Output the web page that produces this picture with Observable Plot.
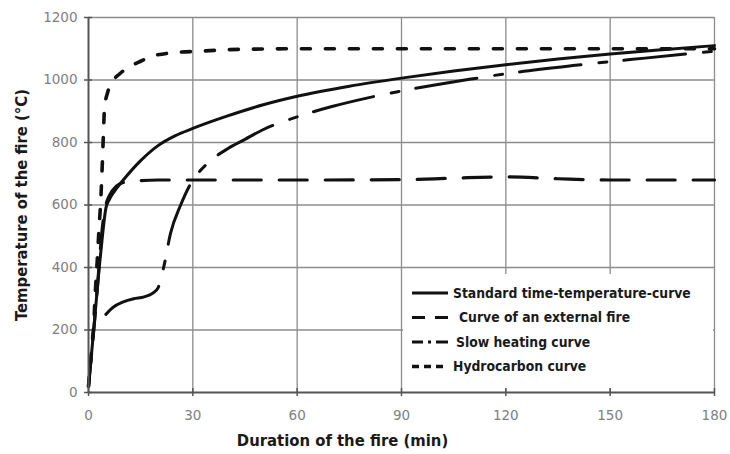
<!DOCTYPE html>
<html>
<head>
<meta charset="utf-8">
<script src="https://cdn.jsdelivr.net/npm/d3@7"></script>
<script src="https://cdn.jsdelivr.net/npm/@observablehq/plot@0.6"></script>
<style>
  html, body { margin: 0; padding: 0; background: #fff; }
  #wrap { position: relative; width: 730px; height: 454px; }
  #wrap svg { display: block; }
  #legend { position: absolute; background: #fff; }
  #legend svg { position: absolute; left: 0; top: 0; }
</style>
</head>
<body>
<div id="wrap"><div id="chart"></div><div id="legend"></div></div>
<script>
// ---- data ----
const xTicks = [0, 30, 60, 90, 120, 150, 180];
const yTicks = [0, 200, 400, 600, 800, 1000, 1200];

const seriesNames = [
  "Standard time-temperature-curve",
  "Curve of an external fire",
  "Slow heating curve",
  "Hydrocarbon curve"
];

const stdMin  = [0, 1, 1.5, 2, 3, 4, 5, 6, 8, 10, 15, 20, 25, 30, 40, 50, 60, 75, 90, 105, 120, 135, 150, 165, 180];
const stdTemp = [20, 140, 200, 265, 390, 500, 590, 618, 652, 680, 742, 790, 822, 845, 885, 920, 948, 980, 1006, 1029, 1049, 1067, 1083, 1097, 1110];

const extMin  = [0, 1, 2, 3, 4, 5, 6, 8, 10, 15, 20, 30, 60, 90, 105, 120, 135, 150, 180];
const extTemp = [20, 140, 260, 400, 530, 600, 630, 660, 672, 678, 680, 680, 680, 681, 686, 690, 684, 680, 680];

const slowMin  = [5, 7, 10, 13, 16, 18.5, 20, 21.6, 23.6, 26.5, 30, 33, 36, 40, 45, 50, 60, 70, 80, 90, 100, 110, 120, 140, 160, 180];
const slowTemp = [250, 272, 290, 300, 306, 318, 335, 400, 510, 600, 680, 720, 750, 780, 810, 840, 882, 915, 942, 965, 985, 1003, 1020, 1047, 1070, 1092];

const hcMin  = [0, 1, 1.5, 2, 2.5, 3, 3.5, 4, 4.3, 4.6, 5.5, 6.6, 9, 11.5, 15, 18, 25, 32, 40, 60, 90, 120, 150, 180];
const hcTemp = [20, 150, 220, 330, 420, 520, 610, 740, 830, 910, 960, 990, 1020, 1040, 1060, 1075, 1088, 1092, 1097, 1100, 1100, 1100, 1100, 1100];

const xTitle = "Duration of the fire (min)";
const yTitle = "Temperature of the fire (°C)";

// ---- build tables ----
const toRows = (m, t) => m.map((d, i) => ({min: d, temp: t[i]}));
const std  = toRows(stdMin, stdTemp);
const ext  = toRows(extMin, extTemp);
const slow = toRows(slowMin, slowTemp);
const hc   = toRows(hcMin, hcTemp);

const dashes = ["none", "28,18", "62,18,8,17", "9,15"];
const sampleDashes = ["none", "13,10", "11,5,3,5,12", "7,5"];
const widths = [3, 3.2, 3, 3.6];

const ink = "#111";
const titleFont = "'DejaVu Sans Condensed', 'DejaVu Sans', sans-serif";

const chart = Plot.plot({
  width: 730,
  height: 454,
  marginLeft: 88,
  marginRight: 16,
  marginTop: 17,
  marginBottom: 62,
  style: {fontFamily: "'DejaVu Sans', sans-serif", background: "#fff"},
  x: {domain: [0, 180], ticks: xTicks},
  y: {domain: [0, 1200], ticks: yTicks},
  marks: [
    Plot.gridX(xTicks.slice(1), {stroke: "#8c8c8c", strokeOpacity: 1, strokeWidth: 1.3}),
    Plot.gridY(yTicks.slice(1), {stroke: "#8c8c8c", strokeOpacity: 1, strokeWidth: 1.3}),
    Plot.line(std,  {x: "min", y: "temp", stroke: ink, strokeWidth: widths[0], curve: "monotone-x"}),
    Plot.line(ext,  {x: "min", y: "temp", stroke: ink, strokeWidth: widths[1], strokeDasharray: dashes[1], curve: "monotone-x"}),
    Plot.line(slow, {x: "min", y: "temp", stroke: ink, strokeWidth: widths[2], strokeDasharray: dashes[2], curve: "monotone-x"}),
    Plot.line(hc,   {x: "min", y: "temp", stroke: ink, strokeWidth: widths[3], strokeDasharray: dashes[3], curve: "monotone-x"}),
    Plot.ruleX([0], {stroke: "#555", strokeWidth: 2}),
    Plot.ruleY([0], {stroke: "#555", strokeWidth: 2.2}),
    // tick marks crossing the axes
    Plot.axisX(xTicks, {tickSize: 8, dy: -4, text: null, label: null, stroke: "#555", strokeWidth: 1.5}),
    Plot.axisY(yTicks, {tickSize: 8, dx: 4, text: null, label: null, stroke: "#555", strokeWidth: 1.5}),
    // tick labels
    Plot.axisX(xTicks, {tickSize: 0, tickPadding: 18, label: null, fontSize: 13.5, color: "#808080", tickFormat: d => String(d)}),
    Plot.axisY(yTicks, {tickSize: 0, tickPadding: 11, label: null, fontSize: 13.5, color: "#808080", tickFormat: d => String(d)}),
    // axis titles
    Plot.text([xTitle], {frameAnchor: "bottom", lineAnchor: "middle", textAnchor: "middle", dx: -59, dy: 48,
      fontSize: 16.5, fontWeight: "bold", fill: "#1a1a1a", fontFamily: titleFont}),
    Plot.text([yTitle], {frameAnchor: "left", lineAnchor: "middle", textAnchor: "middle", rotate: -90, dx: -67,
      fontSize: 16.5, fontWeight: "bold", fill: "#1a1a1a", fontFamily: titleFont})
  ]
});

document.getElementById("chart").appendChild(chart);

// ---- legend: white box over the lower-right part of the frame ----
const xs = chart.scale("x"), ys = chart.scale("y");
const bx0 = xs.apply(90) + 1.5, bx1 = xs.apply(180) - 1.5;
const by0 = ys.apply(378), by1 = ys.apply(0) - 4;
const lw = bx1 - bx0, lh = by1 - by0;
const legendDiv = document.getElementById("legend");
legendDiv.style.left = bx0 + "px";
legendDiv.style.top = by0 + "px";
legendDiv.style.width = lw + "px";
legendDiv.style.height = lh + "px";

const lsvg = d3.select(legendDiv).append("svg")
  .attr("width", lw).attr("height", lh);
seriesNames.forEach((name, i) => {
  const yy = 19 + i * 24.5;
  lsvg.append("line")
    .attr("x1", 9).attr("x2", 45)
    .attr("y1", yy).attr("y2", yy)
    .attr("stroke", ink).attr("stroke-width", widths[i])
    .attr("stroke-dasharray", sampleDashes[i]);
  lsvg.append("text")
    .attr("x", 50 + (i === 1 ? 6 : i === 2 ? 3 : 0)).attr("y", yy)
    .attr("dy", "0.35em")
    .attr("text-anchor", "start")
    .attr("font-family", titleFont)
    .attr("font-weight", "bold")
    .attr("font-size", 13.8)
    .attr("fill", "#1a1a1a")
    .text(name);
});
</script>
</body>
</html>
